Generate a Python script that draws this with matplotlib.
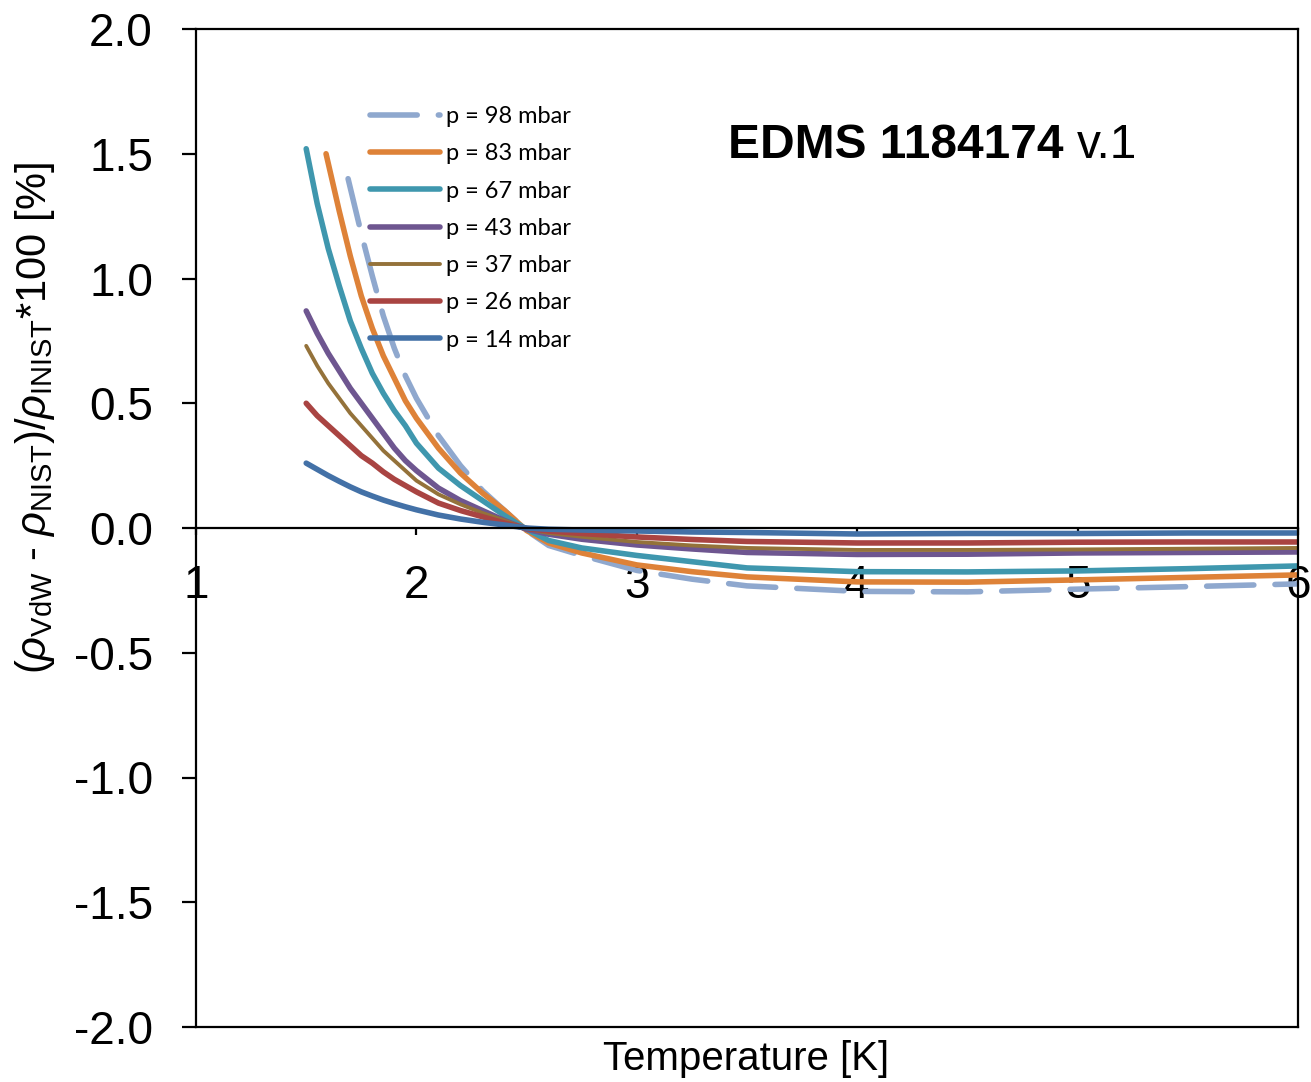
import numpy as np
import matplotlib
matplotlib.use("Agg")
import matplotlib.pyplot as plt

plt.rcParams['font.family'] = ['Liberation Sans', 'DejaVu Sans']
plt.rcParams['axes.unicode_minus'] = False
plt.rcParams['mathtext.fontset'] = 'custom'
plt.rcParams['mathtext.rm'] = 'Liberation Sans'
plt.rcParams['mathtext.it'] = 'Liberation Sans:italic'
plt.rcParams['mathtext.bf'] = 'Liberation Sans:bold'

# temperature grid [K]
t_low = [1.5, 1.55, 1.6, 1.65, 1.7, 1.75, 1.8, 1.85, 1.9, 1.95, 2.0]
t_high = [2.1, 2.2, 2.3, 2.4, 2.5, 2.6, 2.75, 3.0, 3.25, 3.5, 4.0, 4.5, 5.0, 5.5, 6.0]

t_98 = [1.69, 1.75, 1.8, 1.85, 1.9, 1.95, 2.0] + t_high
d_98 = [1.40, 1.18, 1.01, 0.85, 0.72, 0.61, 0.52,
        0.37, 0.25, 0.15, 0.07, -0.01, -0.07, -0.11, -0.17, -0.205, -0.232,
        -0.254, -0.256, -0.245, -0.235, -0.224]

t_83 = [1.59, 1.65, 1.7, 1.75, 1.8, 1.85, 1.9, 1.95, 2.0] + t_high
d_83 = [1.50, 1.27, 1.09, 0.93, 0.80, 0.69, 0.60, 0.51, 0.44,
        0.32, 0.22, 0.14, 0.07, -0.01, -0.06, -0.10, -0.148, -0.175, -0.196,
        -0.216, -0.217, -0.208, -0.198, -0.188]

t_all = t_low + t_high
d_67 = [1.52, 1.30, 1.12, 0.97, 0.83, 0.72, 0.62, 0.54, 0.47, 0.41, 0.34,
        0.24, 0.17, 0.11, 0.05, -0.005, -0.05, -0.08, -0.11, -0.135, -0.16,
        -0.175, -0.176, -0.172, -0.163, -0.152]
d_43 = [0.87, 0.78, 0.70, 0.63, 0.56, 0.50, 0.44, 0.38, 0.32, 0.27, 0.23,
        0.16, 0.11, 0.07, 0.03, -0.005, -0.025, -0.045, -0.068, -0.084, -0.098,
        -0.106, -0.105, -0.100, -0.098, -0.096]
d_37 = [0.73, 0.65, 0.58, 0.52, 0.46, 0.41, 0.36, 0.31, 0.27, 0.23, 0.19,
        0.135, 0.095, 0.06, 0.03, -0.003, -0.02, -0.035, -0.056, -0.07, -0.08,
        -0.088, -0.088, -0.086, -0.083, -0.080]
d_26 = [0.50, 0.45, 0.41, 0.37, 0.33, 0.29, 0.26, 0.225, 0.195, 0.17, 0.145,
        0.10, 0.07, 0.045, 0.02, -0.002, -0.012, -0.022, -0.036, -0.046, -0.054,
        -0.060, -0.060, -0.057, -0.056, -0.056]
d_14 = [0.26, 0.235, 0.21, 0.187, 0.165, 0.145, 0.128, 0.112, 0.098, 0.085, 0.073,
        0.052, 0.036, 0.023, 0.012, 0.0, -0.005, -0.008, -0.012, -0.016, -0.018,
        -0.024, -0.022, -0.022, -0.020, -0.020]

series = [
    ("p = 98 mbar", t_98, d_98, "#8FA8CE", 4.0),
    ("p = 83 mbar", t_83, d_83, "#DE8238", 4.0),
    ("p = 67 mbar", t_all, d_67, "#3F97AE", 4.0),
    ("p = 43 mbar", t_all, d_43, "#6E5690", 4.0),
    ("p = 37 mbar", t_all, d_37, "#94723A", 2.8),
    ("p = 26 mbar", t_all, d_26, "#A94442", 4.0),
    ("p = 14 mbar", t_all, d_14, "#4371A7", 4.0),
]

fig = plt.figure(figsize=(13.11, 10.82), dpi=100)
ax = fig.add_axes([196 / 1311, 1 - 1027 / 1082, 1102 / 1311, 998 / 1082])

for label, t, d, col, lw in series:
    if label.startswith("p = 98"):
        ax.plot(t, d, color=col, lw=lw, dashes=(8.5, 3.8),
                dash_capstyle='round', solid_joinstyle='round', label=label)
    else:
        ax.plot(t, d, color=col, lw=lw, solid_capstyle='round',
                solid_joinstyle='round', label=label)

ax.set_xlim(1, 6)
ax.set_ylim(-2, 2)
ax.set_yticks(np.arange(-2, 2.01, 0.5))
ax.yaxis.set_major_formatter(matplotlib.ticker.FormatStrFormatter('%.1f'))
ax.set_xticks([1, 2, 3, 4, 5, 6])

# x axis crosses at zero, frame kept around the plot area
ax.spines['bottom'].set_position(('data', 0))
ax.axhline(-2.0, color='black', lw=1.6, clip_on=False)
for s in ax.spines.values():
    s.set_linewidth(1.6)

ax.tick_params(axis='y', direction='out', length=10, width=1.6, pad=21,
               labelsize=33)
ax.tick_params(axis='x', direction='out', length=5, width=1.6, pad=21,
               labelsize=33)

leg = ax.legend(loc='upper left', bbox_to_anchor=(370 / 1311, 1 - 106 / 1082),
                bbox_transform=fig.transFigure, frameon=False, borderpad=0,
                borderaxespad=0, handlelength=2.97, handletextpad=0.25,
                labelspacing=0.69, prop={'family': 'Lato', 'size': 17})

fig.text(35 / 1311, 1 - 418 / 1082,
         r'($\rho_{\rm VdW}$ - $\rho_{\rm NIST}$)/$\rho_{\rm INIST}$*100 [%]',
         rotation=90, ha='center', va='center', fontsize=30)
fig.text(746 / 1311, 1 - 1059 / 1082, 'Temperature [K]',
         ha='center', va='center', fontsize=29)

t1 = ax.text(728 / 1311, 1 - 146 / 1082, 'EDMS 1184174 ', transform=fig.transFigure,
             ha='left', va='center', fontsize=34.5, fontweight='bold')
fig.canvas.draw()
bb = t1.get_window_extent()
ax.text(bb.x1 / 1311, 1 - 146 / 1082, 'v.1', transform=fig.transFigure,
        ha='left', va='center', fontsize=34.5)

fig.savefig('out.png', dpi=100)
